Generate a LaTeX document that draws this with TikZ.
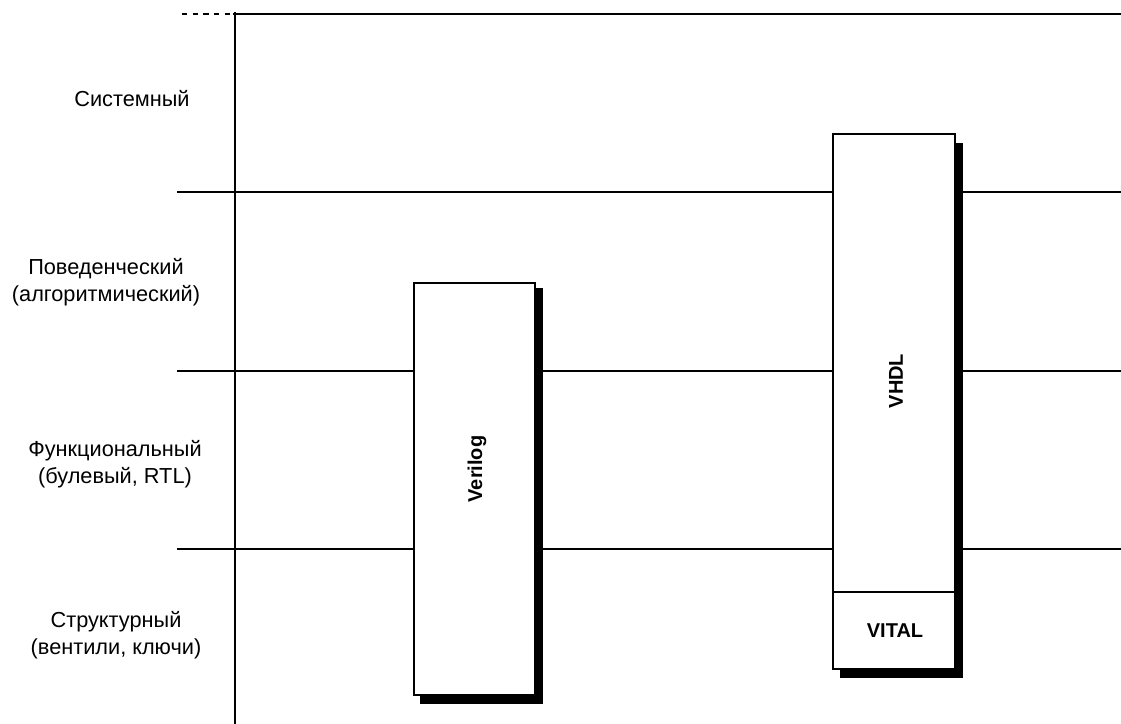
\documentclass[tikz,border=0pt]{standalone}
\usepackage{fontspec}
\setmainfont{Liberation Sans}
\begin{document}
\begin{tikzpicture}[x=0.75pt, y=-0.75pt, line width=1.1pt,
	level/.style={font=\fontsize{16.3}{20}\selectfont, align=center},
	lang/.style={font=\fontsize{15}{18}\selectfont\bfseries}]
	\useasboundingbox (0,0) rectangle (1121,724);
	% level borders
	\draw[dash pattern=on 4pt off 4pt] (182,14) -- (233,14);
	\draw (233,14) -- (1121,14);
	\draw (177,192) -- (1121,192);
	\draw (177,371) -- (1121,371);
	\draw (177,549) -- (1121,549);
	\draw (235,12) -- (235,724);
	% level names
	\node[level] (sys) at (132,99) {Системный};
	\node[level] (beh) at (106,282) {Поведенческий\\(алгоритмический)};
	\node[level] (func) at (115,464) {Функциональный\\(булевый, RTL)};
	\node[level] (str) at (116,635) {Структурный\\(вентили, ключи)};
	% Verilog
	\fill (420,288) rectangle (543,704);
	\filldraw[fill=white] (414,283) rectangle (535,695);
	\node[lang, rotate=90] (verilog) at (477,469) {Verilog};
	% VHDL and VITAL
	\fill (840,143) rectangle (963,678);
	\filldraw[fill=white] (833,134) rectangle (955,669);
	\draw (833,592) -- (955,592);
	\node[lang, rotate=90] (vhdl) at (896,381) {VHDL};
	\node[lang] (vital) at (895,631) {VITAL};
\end{tikzpicture}
\end{document}
